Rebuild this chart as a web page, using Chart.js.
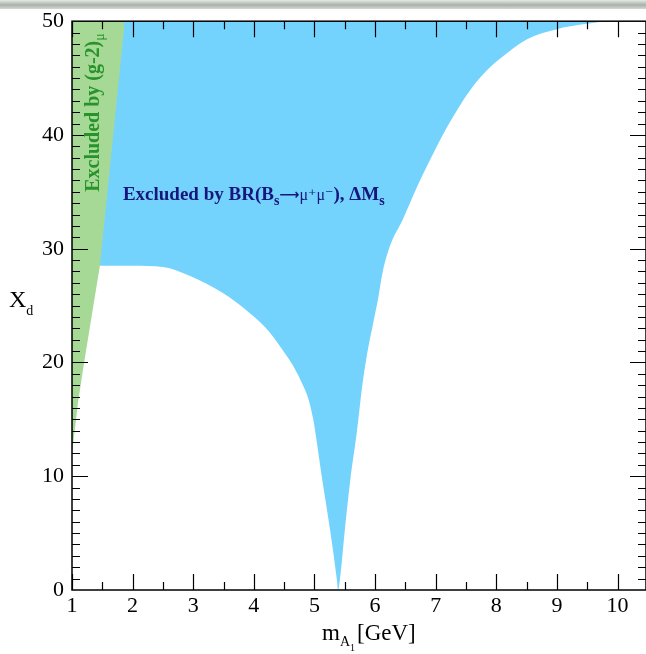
<!DOCTYPE html>
<html>
<head>
<meta charset="utf-8">
<script src="https://cdn.jsdelivr.net/npm/chart.js@4.4.1/dist/chart.umd.min.js"></script>
<style>
  html, body { margin: 0; padding: 0; background: #fff; }
  #wrap { position: relative; width: 646px; height: 654px; overflow: hidden; }
  #bar { position: absolute; left: 0; top: 0; width: 646px; height: 9px;
         background: linear-gradient(#e6eae6, #a9b0a9 55%, #d3d8d3); }
  canvas { position: absolute; left: 0; top: 0; }
</style>
</head>
<body>
<div id="wrap">
  <canvas id="plot" width="646" height="654"></canvas>
  <div id="bar"></div>
</div>
<script>
// axis ranges and tick labels
const xTicks = [1, 2, 3, 4, 5, 6, 7, 8, 9, 10];
const yTicks = [0, 10, 20, 30, 40, 50];
const xRange = [1, 10.47];
const yRange = [0, 50];

// lower edge of the region excluded by BR(Bs -> mu mu), Delta Ms
const bsEdgeX = [1.46, 2.0, 2.5, 2.95, 3.49, 3.94, 4.27, 4.5, 4.65, 4.81, 4.9, 4.98, 5.05, 5.12, 5.26, 5.37, 5.39,
                 5.42, 5.50, 5.59, 5.70, 5.79, 5.87, 5.97, 6.05, 6.12, 6.25, 6.46, 6.69, 7.02, 7.2, 7.4, 7.62,
                 7.85, 8.06, 8.5, 9.0, 9.4, 9.9, 10.47];
const bsEdgeY = [28.5, 28.5, 28.4, 27.6, 26.1, 24.3, 22.6, 20.9, 19.7, 18.0, 16.8, 15.0, 12.6, 10.0, 5.2, 0.9, 0,
                 0.9, 5.2, 9.6, 13.9, 18.0, 20.8, 23.5, 25.6, 27.8, 30.3, 32.6, 35.4, 39.0, 40.8, 42.6, 44.3,
                 45.7, 46.7, 48.4, 49.3, 49.7, 50, 50];

// edge of the region excluded by (g-2)_mu
const g2EdgeX = [1.0, 1.1, 1.2, 1.46, 1.68, 1.87];
const g2EdgeY = [12, 16.5, 20, 28.5, 40, 50];

const blueFill = '#74d3fd';
const greenFill = '#a6d996';
const navy = '#16167c';
const green = '#27932a';
const serif = '"Liberation Serif", "DejaVu Serif", serif';

function toPoints(xs, ys) {
  return xs.map((x, i) => ({ x: x, y: ys[i] }));
}

function drawRich(ctx, x, y, parts) {
  let cx = x;
  parts.forEach(p => {
    ctx.font = p.font;
    ctx.fillStyle = p.color;
    ctx.fillText(p.t, cx, y + (p.dy || 0));
    cx += ctx.measureText(p.t).width + (p.gap || 0);
  });
}

const framePlugin = {
  id: 'frame',
  afterDraw(chart) {
    const ctx = chart.ctx;
    const a = chart.chartArea;
    const xs = chart.scales.x;
    const ys = chart.scales.y;
    ctx.save();
    ctx.strokeStyle = '#000';
    ctx.lineWidth = 1.5;
    ctx.strokeRect(a.left, a.top, a.right - a.left, a.bottom - a.top);

    ctx.lineWidth = 1.2;
    ctx.beginPath();
    for (let v = 1; v <= 10.5; v += 0.5) {
      const px = Math.round(xs.getPixelForValue(v)) + 0.5;
      const len = Number.isInteger(v) ? 16 : 8;
      ctx.moveTo(px, a.bottom); ctx.lineTo(px, a.bottom - len);
      ctx.moveTo(px, a.top); ctx.lineTo(px, a.top + len);
    }
    for (let v = 1; v < 50; v++) {
      const py = Math.round(ys.getPixelForValue(v)) + 0.5;
      const len = v % 10 === 0 ? 16 : 8;
      ctx.moveTo(a.left, py); ctx.lineTo(a.left + len, py);
      ctx.moveTo(a.right, py); ctx.lineTo(a.right - len, py);
    }
    ctx.stroke();

    // axis titles
    ctx.textBaseline = 'alphabetic';
    drawRich(ctx, 322, 640, [
      { t: 'm', font: '23px ' + serif, color: '#000' },
      { t: 'A', font: '14px ' + serif, color: '#000', dy: 6 },
      { t: '1', font: '10px ' + serif, color: '#000', dy: 11, gap: 2 },
      { t: '[GeV]', font: '23px ' + serif, color: '#000' }
    ]);
    drawRich(ctx, 9, 307, [
      { t: 'X', font: '24px ' + serif, color: '#000' },
      { t: 'd', font: '14px ' + serif, color: '#000', dy: 8 }
    ]);

    // annotation inside the blue region
    drawRich(ctx, xs.getPixelForValue(1.84), ys.getPixelForValue(34.3), [
      { t: 'Excluded by BR(B', font: 'bold 19px ' + serif, color: navy },
      { t: 's', font: 'bold 14px ' + serif, color: navy, dy: 5 },
      { t: '\u27F6', font: 'bold 14px "DejaVu Sans"', color: navy, dy: -1 },
      { t: '\u03BC\u207A\u03BC\u207B', font: '16px ' + serif, color: navy },
      { t: '), \u0394M', font: 'bold 19px ' + serif, color: navy },
      { t: 's', font: 'bold 14px ' + serif, color: navy, dy: 5 }
    ]);

    // rotated annotation in the green band
    ctx.translate(xs.getPixelForValue(1.44), ys.getPixelForValue(35.0));
    ctx.rotate(-Math.PI / 2);
    drawRich(ctx, 0, 0, [
      { t: 'Excluded by (g-2)', font: 'bold 20px ' + serif, color: green },
      { t: '\u03BC', font: '14px ' + serif, color: green, dy: 5 }
    ]);
    ctx.restore();
  }
};

const tickFont = { family: serif, size: 22 };

new Chart(document.getElementById('plot'), {
  type: 'line',
  data: {
    datasets: [
      {
        label: '(g-2)',
        data: toPoints(g2EdgeX, g2EdgeY),
        fill: 'end',
        backgroundColor: greenFill,
        borderWidth: 0,
        pointRadius: 0,
        order: 1
      },
      {
        label: 'BR',
        data: toPoints(bsEdgeX, bsEdgeY),
        fill: 'end',
        backgroundColor: blueFill,
        borderWidth: 0,
        pointRadius: 0,
        cubicInterpolationMode: 'monotone',
        order: 2
      }
    ]
  },
  options: {
    responsive: false,
    animation: false,
    devicePixelRatio: 1,
    layout: { padding: { left: 0, right: 0, top: 15, bottom: 0 } },
    plugins: { legend: { display: false }, tooltip: { enabled: false } },
    scales: {
      x: {
        type: 'linear',
        min: xRange[0],
        max: xRange[1],
        grid: { display: false, drawTicks: false },
        border: { display: false },
        ticks: { font: tickFont, color: '#000', padding: 3, maxRotation: 0, autoSkip: false },
        afterBuildTicks: s => { s.ticks = xTicks.map(v => ({ value: v })); },
        afterFit: s => { s.height = 64; }
      },
      y: {
        type: 'linear',
        min: yRange[0],
        max: yRange[1],
        grid: { display: false, drawTicks: false },
        border: { display: false },
        ticks: { font: tickFont, color: '#000', padding: 8, autoSkip: false },
        afterBuildTicks: s => { s.ticks = yTicks.map(v => ({ value: v })); },
        afterFit: s => { s.width = 72; }
      }
    }
  },
  plugins: [framePlugin]
});
</script>
</body>
</html>
